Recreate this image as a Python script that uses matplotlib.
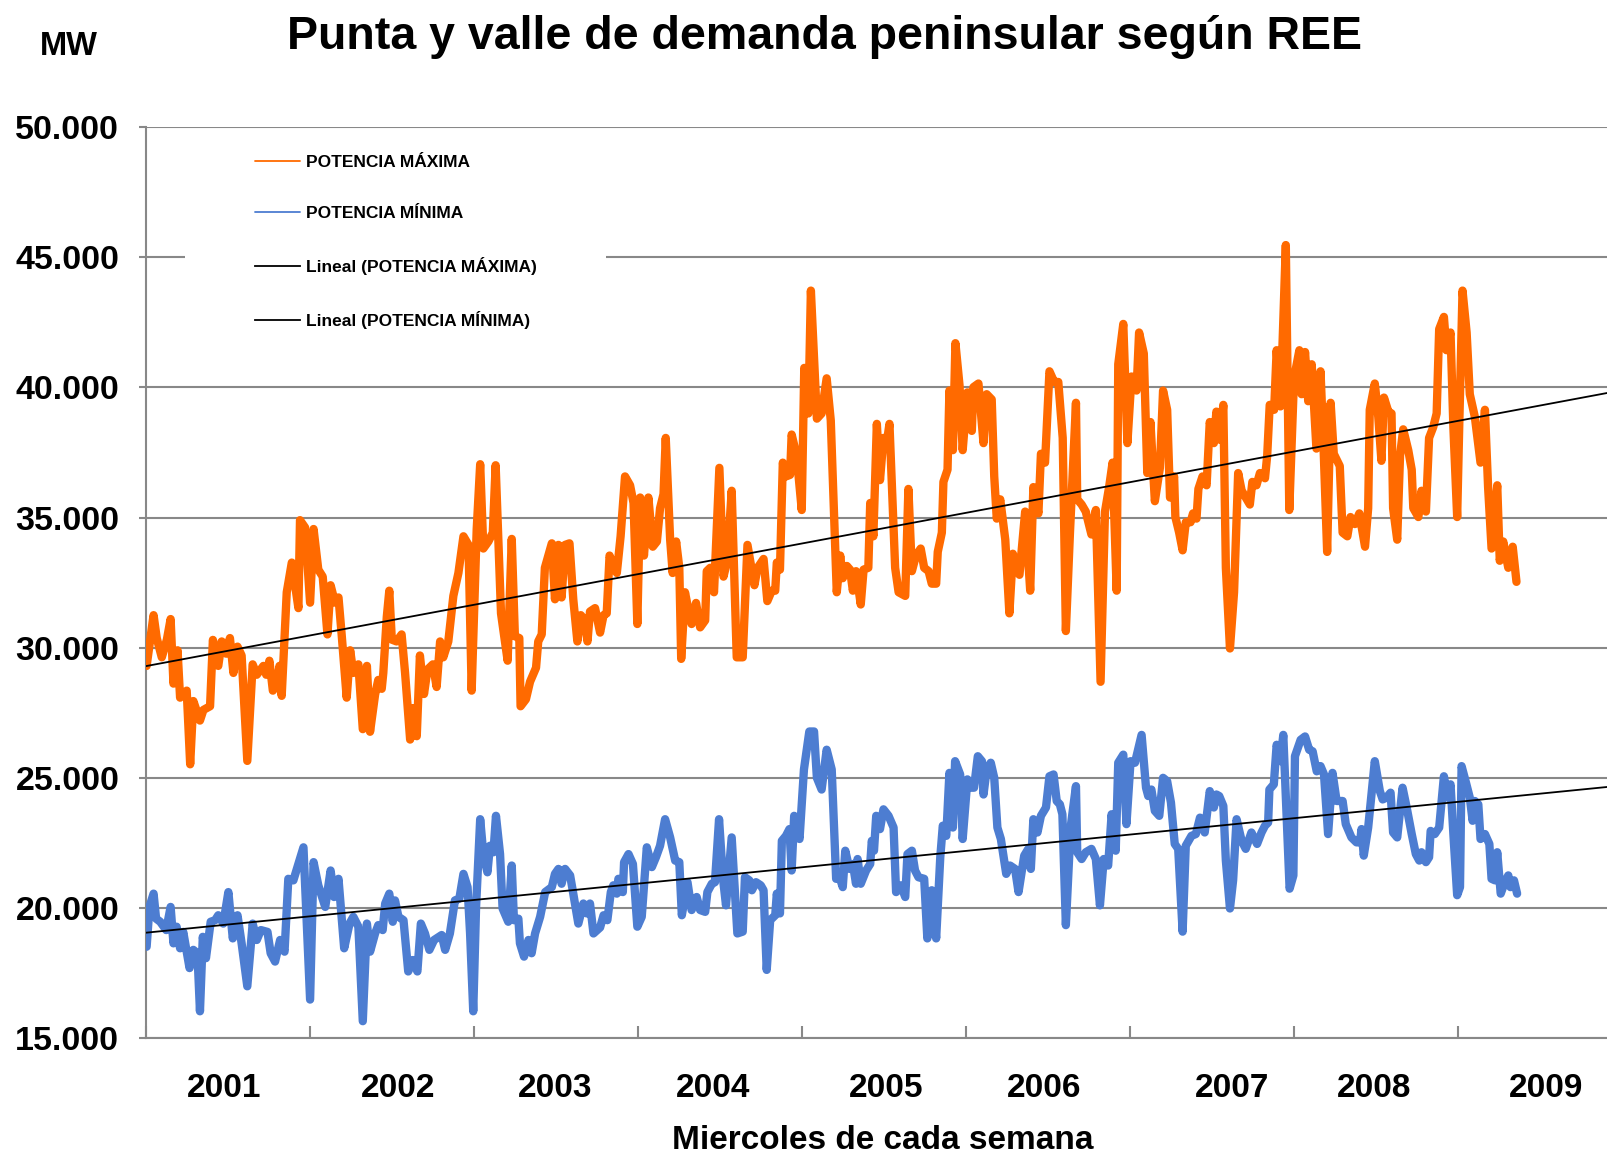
import numpy as np
import matplotlib.pyplot as plt
from matplotlib.patches import Rectangle
from matplotlib.ticker import FuncFormatter

plt.rcParams['font.family'] = ['Liberation Sans', 'DejaVu Sans']
plt.rcParams['font.weight'] = 'bold'

# semana (desde el primer miercoles de 2001) y potencia en MW
sem_max = [0.3, 2.5, 3.5, 5.1, 6.7, 7.9, 8.8, 10.1, 10.9, 13.0, 14.1, 15.1, 17.2, 18.3, 20.4, 21.3,
           23.0, 24.1, 25.5, 26.7, 27.8, 29.1, 30.4, 32.2, 33.9, 35.2, 37.3, 38.2, 39.2, 40.3, 41.5,
           42.4, 43.1, 44.7, 46.3, 48.4, 48.9, 50.5, 52.1, 53.2, 54.7, 56.1, 57.6, 58.6, 60.0, 61.1,
           62.1, 63.7, 64.8, 65.8, 67.4, 68.8, 70.1, 71.1, 72.7, 73.7, 74.8, 75.3, 76.4, 77.2, 78.0,
           79.5, 81.1, 82.2, 83.8, 84.6, 85.9, 86.9, 88.2, 89.3, 91.0, 92.2, 93.3, 94.3, 95.9, 97.5,
           99.1, 100.7, 102.3, 103.3, 104.9, 106.0, 107.0, 108.6, 110.0, 110.9, 112.6, 114.7, 116.0,
           117.0, 118.4, 118.8, 120.5, 121.8, 123.7, 124.4, 125.5, 126.5, 128.7, 129.7, 130.8, 131.8,
           132.9, 134.3, 135.5, 136.8, 137.9, 139.2, 140.0, 140.8, 142.4, 144.0, 145.1, 146.1, 147.0,
           148.2, 149.3, 150.5, 151.9, 153.5, 154.6, 155.8, 156.7, 157.9, 159.3, 160.7, 162.0, 163.0,
           164.1, 164.8, 166.2, 167.0, 168.1, 169.1, 169.7, 170.9, 172.0, 173.0, 174.4, 175.7, 177.3,
           177.8, 178.9, 180.1, 181.8, 183.1, 184.3, 185.7, 187.3, 189.2, 190.7, 192.9, 193.9, 194.7,
           195.8, 197.0, 198.4, 199.5, 200.0, 201.0, 201.9, 202.9, 204.2, 204.7, 206.3, 207.9, 208.7,
           210.0, 210.8, 212.7, 214.2, 215.8, 217.1, 219.0, 220.1, 220.9, 222.2, 223.2, 224.1, 225.1,
           226.6, 227.5, 229.0, 229.6, 230.6, 231.7, 232.7, 233.8, 234.9, 235.7, 237.5, 238.6, 240.7,
           241.7, 242.8, 244.1, 245.6, 246.7, 248.1, 249.1, 250.5, 251.0, 252.3, 252.8, 254.1, 254.7,
           255.8, 256.6, 257.9, 258.9, 260.4, 261.8, 262.3, 263.9, 265.5, 266.5, 268.1, 268.9, 269.7,
           270.8, 272.4, 273.7, 274.8, 276.9, 278.7, 280.3, 281.3, 282.9, 283.7, 285.0, 286.4, 287.9,
           289.2, 290.6, 291.6, 292.9, 294.8, 295.2, 296.6, 297.9, 299.7, 301.1, 302.6, 304.0, 305.3,
           306.4, 307.7, 308.2, 309.8, 311.1, 312.4, 314.0, 314.8, 316.3, 317.4, 318.4, 319.8, 321.4,
           322.4, 323.7, 324.6, 325.9, 326.3, 327.5, 328.6, 329.6, 331.1, 331.9, 333.0, 333.6, 334.9,
           336.2, 337.2, 338.5, 339.3, 340.4, 341.5, 342.3, 343.6, 344.9, 346.2, 347.3, 348.3, 349.9,
           350.7, 352.0, 353.1, 354.7, 355.4, 356.2, 357.6, 358.4, 359.6, 361.3, 362.4, 363.9, 365.6,
           366.3, 367.4, 368.4, 369.5, 371.0, 372.3, 373.2, 374.4, 375.5, 376.5, 378.4, 379.3, 380.8,
           381.8, 383.2, 384.6, 386.4, 387.4, 387.9, 389.5, 390.6, 391.6, 392.4, 393.8, 394.8, 395.3,
           396.6, 397.5, 398.5, 400.1, 401.2, 401.7, 403.3, 404.3, 405.7, 406.7, 408.0, 409.1, 409.9,
           411.4, 412.2, 413.5, 414.4, 415.6, 416.3, 417.3, 418.6, 419.6, 421.2, 423.0, 424.4, 425.4,
           426.5, 428.3, 429.1, 430.2, 431.8, 433.2, 434.4]
pot_max = [29300, 31250, 30370, 29630, 30300, 31100, 28620, 29900, 28080, 28350, 25520, 27950, 27200,
           27610, 27750, 30300, 29300, 30240, 29770, 30370, 29030, 30040, 29700, 25650, 29360, 28960,
           29300, 28960, 29500, 28350, 28560, 29300, 28150, 32130, 33270, 31520, 34900, 34620, 31730,
           34560, 33000, 32730, 30510, 32400, 31730, 31930, 30510, 28080, 29900, 29030, 29360, 26870,
           29300, 26770, 28200, 28760, 28420, 29030, 31180, 32190, 30310, 30240, 30510, 29030, 26470,
           27680, 26600, 29700, 28220, 29160, 29360, 28490, 30240, 29630, 30240, 31990, 32870, 34280,
           33950, 28350, 34560, 37050, 33810, 34080, 34420, 37010, 31320, 29500, 34180, 30440, 30370,
           27750, 28020, 28690, 29230, 30240, 30510, 33070, 34010, 31860, 33950, 31930, 33950, 34010,
           31860, 30240, 31250, 31050, 30240, 31390, 31520, 30580, 31250, 31320, 33540, 33140, 32870,
           34280, 36580, 36240, 35560, 30910, 35770, 33540, 35770, 33880, 34080, 35360, 35900, 38060,
           34150, 32870, 34080, 33070, 29570, 32130, 31450, 30910, 31720, 30780, 31050, 32940, 33070,
           32130, 36910, 32730, 33340, 36030, 29630, 29630, 33950, 32400, 33070, 33210, 33410, 31790,
           32190, 32190, 33270, 33000, 37110, 36580, 36640, 38190, 37380, 35290, 40750, 39000, 43720,
           38800, 39000, 40350, 38730, 32130, 33540, 32670, 33140, 33000, 32190, 32940, 31660, 33000,
           33070, 35560, 34280, 38600, 36440, 38060, 37920, 38600, 33070, 32130, 31990, 36100, 32940,
           33540, 33810, 33070, 32940, 32460, 32460, 33680, 34420, 36370, 36840, 39880, 37590, 41700,
           40080, 37590, 39810, 38330, 40010, 40150, 37860, 39740, 39540, 36580, 34960, 35700, 34150,
           31320, 33610, 32800, 35230, 32190, 36170, 35160, 37450, 37110, 40620, 40210, 40210, 38060,
           30640, 34420, 39410, 35700, 35500, 35230, 34350, 35290, 28690, 35230, 36170, 37110, 32190,
           40890, 42440, 37860, 40420, 39880, 42110, 41300, 36710, 38670, 35630, 36910, 39880, 39140,
           35770, 36580, 35020, 34420, 33740, 34820, 34820, 35160, 34960, 36100, 36580, 36240, 38670,
           37860, 39070, 37990, 39330, 33070, 29970, 32130, 36710, 36040, 35830, 35500, 36370, 36240,
           36710, 36510, 37380, 39330, 39140, 41430, 39270, 45470, 35290, 40350, 41430, 39740, 41360,
           39470, 40890, 37650, 40620, 37920, 33680, 39410, 37450, 36980, 34420, 34280, 35020, 34750,
           35160, 33880, 35360, 39140, 40150, 38870, 37180, 39610, 39070, 39000, 35360, 34150, 37380,
           38390, 37590, 36840, 35360, 35020, 36030, 35230, 38060, 38470, 39000, 42240, 42710, 41430,
           42110, 38470, 35020, 38730, 43720, 42110, 39740, 38870, 37110, 39140, 36170, 33810, 36240,
           33340, 34080, 33070, 33880, 32530]

sem_min = [0.3, 1.2, 2.5, 3.3, 4.6, 6.5, 7.9, 8.8, 9.8, 10.9, 11.9, 13.9, 15.1, 16.4, 17.2, 18.1,
           19.1, 20.6, 22.0, 23.0, 24.6, 26.2, 27.6, 29.1, 30.4, 32.2, 33.9, 35.2, 36.5, 38.6, 39.6,
           41.0, 42.6, 44.0, 45.2, 46.8, 48.7, 50.0, 52.1, 53.2, 54.7, 56.9, 58.6, 59.7, 61.1, 62.9,
           64.6, 65.8, 67.4, 68.8, 70.1, 71.1, 72.7, 73.7, 75.1, 75.9, 77.2, 78.3, 79.0, 80.1, 81.7,
           83.2, 84.6, 86.1, 87.2, 88.5, 89.9, 91.4, 93.8, 94.9, 96.4, 98.0, 99.4, 100.7, 102.0,
           102.8, 103.8, 104.7, 106.0, 107.0, 108.3, 109.1, 110.2, 111.0, 112.3, 113.1, 114.9, 116.0,
           116.7, 118.1, 118.6, 119.9, 121.3, 122.3, 123.4, 125.0, 126.6, 128.7, 129.7, 130.8, 131.8,
           132.9, 134.5, 135.5, 137.1, 138.7, 139.8, 140.8, 141.9, 144.0, 145.1, 146.3, 147.4, 148.2,
           149.3, 149.8, 151.2, 151.6, 153.0, 154.4, 155.8, 157.2, 158.8, 160.4, 161.7, 163.0, 164.6,
           166.2, 167.8, 169.1, 169.9, 171.7, 173.0, 174.6, 175.7, 177.3, 178.0, 179.4, 180.4, 181.7,
           182.9, 183.9, 185.7, 187.5, 189.2, 189.9, 191.3, 192.1, 193.4, 194.9, 195.8, 196.8, 197.9,
           199.5, 200.0, 201.0, 201.6, 202.9, 204.0, 204.7, 205.5, 207.2, 208.6, 210.3, 211.8, 212.7,
           214.2, 215.8, 217.4, 218.8, 219.9, 220.9, 221.7, 223.0, 224.1, 225.1, 225.6, 226.6, 228.3,
           229.6, 230.1, 230.8, 231.5, 232.7, 233.8, 235.4, 237.0, 237.8, 239.3, 240.7, 241.4, 242.8,
           243.8, 244.9, 246.7, 247.7, 249.1, 250.5, 251.8, 252.6, 253.7, 254.7, 255.8, 256.5, 258.1,
           258.9, 260.4, 261.5, 262.5, 263.7, 265.0, 265.5, 266.5, 267.8, 268.9, 269.9, 271.0, 272.7,
           273.9, 275.5, 276.6, 278.4, 279.7, 280.5, 281.3, 282.6, 283.7, 285.3, 286.4, 287.7, 288.7,
           289.7, 290.5, 291.6, 293.1, 294.8, 295.2, 296.6, 297.9, 299.7, 301.1, 302.4, 303.6, 305.0,
           306.1, 307.4, 308.2, 309.8, 310.8, 312.1, 313.5, 315.6, 317.0, 317.7, 318.7, 319.8, 321.2,
           322.4, 323.7, 324.9, 326.1, 327.2, 328.6, 329.6, 331.4, 332.8, 334.1, 335.6, 337.2, 338.5,
           339.3, 340.2, 341.5, 342.3, 343.6, 344.6, 345.7, 347.3, 348.6, 350.4, 352.2, 353.6, 354.7,
           355.7, 356.1, 357.5, 358.4, 359.6, 360.5, 362.5, 363.7, 364.2, 366.0, 367.4, 368.7, 369.8,
           371.1, 372.3, 373.4, 374.7, 376.1, 377.4, 379.3, 380.3, 382.1, 383.7, 384.8, 385.3, 386.0,
           387.4, 389.5, 391.1, 392.0, 393.2, 394.5, 395.3, 396.6, 398.3, 399.6, 401.2, 402.5, 403.6,
           404.3, 405.7, 406.7, 407.2, 408.5, 409.9, 411.4, 412.5, 413.5, 414.4, 415.6, 416.5, 417.0,
           418.4, 419.6, 420.5, 421.2, 422.3, 423.0, 424.4, 425.8, 426.5, 427.6, 428.3, 429.4, 430.7,
           431.8, 432.5, 433.6, 434.6]
pot_min = [18510, 20040, 20550, 19590, 19470, 19150, 20040, 18640, 19280, 18450, 19080, 17690, 18390,
           18260, 16030, 18890, 18070, 19470, 19530, 19720, 19400, 20610, 18830, 19720, 18640, 16990,
           19400, 18770, 19150, 19080, 18260, 17940, 18770, 18320, 21120, 21060, 21820, 22330, 16480,
           21760, 20870, 20040, 21440, 20420, 21120, 18450, 19400, 19660, 19280, 15650, 19400, 18320,
           19020, 19340, 19150, 20170, 20550, 19470, 20290, 19660, 19530, 17560, 18000, 17560, 19400,
           19020, 18390, 18770, 18960, 18390, 19020, 20290, 20360, 21310, 20800, 19020, 16030, 20040,
           23410, 22070, 21370, 22390, 22140, 23540, 22070, 19980, 19470, 21630, 19530, 19590, 18640,
           18130, 18770, 18260, 19020, 19660, 20610, 20800, 21310, 21500, 20930, 21500, 21250, 20550,
           19400, 20170, 19790, 20170, 19020, 19250, 19720, 19530, 20610, 20870, 20550, 21120, 20610,
           21760, 22070, 21690, 19280, 19660, 22330, 21570, 21950, 22390, 23410, 22710, 21820, 21760,
           19720, 20990, 19920, 20420, 19920, 19850, 20610, 20930, 20990, 23410, 21180, 20100, 22710,
           19020, 19090, 21180, 21060, 20680, 20990, 20870, 20680, 17620, 19530, 19720, 20550, 19790,
           22580, 22770, 23030, 21440, 23540, 22650, 25320, 26780, 26780, 25000, 24550, 26080, 25320,
           21120, 21180, 20800, 22200, 21500, 21690, 20930, 21880, 20930, 21440, 21690, 22580, 22200,
           23540, 23030, 23790, 23540, 23090, 20610, 20870, 20420, 22070, 22200, 21440, 21180, 21120,
           18830, 20680, 18830, 21950, 23160, 22770, 25190, 23090, 25640, 25130, 22650, 24940, 24620,
           24620, 25830, 25640, 24360, 25320, 25580, 25000, 23090, 22650, 21310, 21630, 21500, 20610,
           22010, 22270, 21500, 23410, 22900, 23540, 23860, 25060, 25130, 24110, 23980, 23600, 19340,
           23090, 24680, 22140, 21880, 22140, 22270, 21880, 20100, 21880, 21630, 23600, 22200, 25580,
           25890, 23220, 25640, 25580, 26650, 24620, 24300, 24550, 23730, 23540, 25000, 24870, 24050,
           22460, 22270, 19090, 22390, 22770, 22840, 23470, 22900, 24490, 23860, 24360, 24300, 23920,
           21820, 19980, 21060, 23410, 22580, 22270, 22900, 22460, 22900, 23160, 23280, 24550, 24750,
           26270, 25640, 26650, 20740, 21250, 25830, 26460, 26590, 26080, 26020, 25250, 25450, 25130,
           22840, 25190, 24110, 24110, 23220, 22710, 22520, 22520, 23030, 22010, 23090, 25640, 24490,
           24170, 24240, 24430, 22900, 22710, 24620, 23860, 22840, 22070, 21820, 22140, 21760, 21950,
           22960, 22840, 23090, 25060, 24240, 24750, 22840, 20490, 20800, 25450, 24810, 24240, 23350,
           24110, 23980, 22650, 22840, 22460, 21120, 21060, 22140, 20550, 20990, 21250, 20800, 21060,
           20550]

anios = ['2001', '2002', '2003', '2004', '2005', '2006', '2007', '2008', '2009']
pos_anios = [24.7, 79.9, 129.7, 179.7, 234.6, 284.7, 344.2, 389.3, 443.9]
marcas = [0, 52, 104, 156, 208, 260, 312, 364, 416]

naranja = '#FF6A00'
azul = '#4D7DD1'
gris = '#888888'
x_fin = 463.4

fig = plt.figure(figsize=(16.08, 11.56), dpi=100)
ax = fig.add_axes([0.0906, 0.102, 0.9094, 0.788])

ax.plot(sem_max, pot_max, color=naranja, lw=6, solid_joinstyle='round',
        solid_capstyle='round', label='POTENCIA MÁXIMA', zorder=3)
ax.plot(sem_min, pot_min, color=azul, lw=6, solid_joinstyle='round',
        solid_capstyle='round', label='POTENCIA MÍNIMA', zorder=3)

# lineas de tendencia lineal
xt = np.array([0, x_fin])
for s, v, lab in [(sem_max, pot_max, 'Lineal (POTENCIA MÁXIMA)'),
                  (sem_min, pot_min, 'Lineal (POTENCIA MÍNIMA)')]:
    m, b = np.polyfit(s, v, 1)
    ax.plot(xt, m * xt + b, color='black', lw=1.3, label=lab, zorder=4)

ax.set_xlim(0, x_fin)
ax.set_ylim(15000, 50000)
ax.set_yticks(np.arange(15000, 50001, 5000))
ax.yaxis.set_major_formatter(FuncFormatter(lambda v, p: f'{v:,.0f}'.replace(',', '.')))
ax.grid(axis='y', color=gris, lw=1.5)
ax.set_axisbelow(True)

ax.set_xticks(marcas)
ax.set_xticklabels([])
ax.set_xticks(pos_anios, anios, minor=True)
ax.tick_params(axis='x', which='major', direction='in', length=9, width=1.5, color=gris)
ax.tick_params(axis='x', which='minor', length=0, pad=25, labelsize=24)
ax.tick_params(axis='y', direction='out', length=5, width=1.5, color=gris, pad=14, labelsize=24.5)

for side in ['top', 'right']:
    ax.spines[side].set_visible(False)
for side in ['left', 'bottom']:
    ax.spines[side].set_color(gris)
    ax.spines[side].set_linewidth(1.5)

# fondo blanco de la leyenda
ax.add_patch(Rectangle((0.0266, 0.757), 0.288, 0.235, transform=ax.transAxes,
                       facecolor='white', edgecolor='none', zorder=1))
leg = ax.legend(loc='upper left', bbox_to_anchor=(0.075, 0.970), frameon=False,
                prop={'size': 12.5, 'weight': 'bold'}, handlelength=2.6,
                handletextpad=0.3, labelspacing=2.08, borderpad=0, borderaxespad=0)
for ln in leg.get_lines():
    ln.set_linewidth(1.3)

fig.text(0.513, 0.968, 'Punta y valle de demanda peninsular según REE', ha='center',
         va='center', fontsize=33.5, fontweight='bold')
fig.text(0.043, 0.960, 'MW', ha='center', va='center', fontsize=23.5, fontweight='bold')
fig.text(0.549, 0.0133, 'Miercoles de cada semana', ha='center', va='center',
         fontsize=24, fontweight='bold')

fig.savefig('out.png', dpi=100)
